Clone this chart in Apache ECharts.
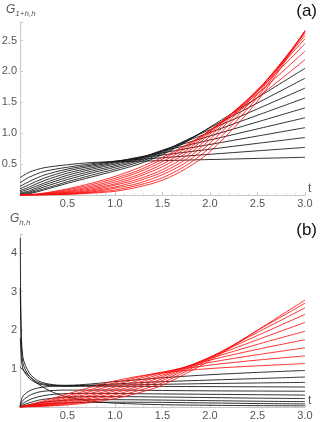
<!DOCTYPE html>
<html>
<head>
<meta charset="utf-8">
<script src="https://cdn.jsdelivr.net/npm/echarts@6/dist/echarts.min.js"></script>
<style>html,body{margin:0;padding:0;background:#fff}#main{width:320px;height:422px}</style>
</head>
<body>
<div id="main"></div>
<script>
// x ticks (shared by both panels)
var xTickLabels = ['0.5', '1.0', '1.5', '2.0', '2.5', '3.0'];
var yTickLabelsA = ['0.5', '1.0', '1.5', '2.0', '2.5'];
var yTickLabelsB = ['1', '2', '3', '4'];

// panel (a): t samples
var tA = [0, 0.1, 0.25, 0.5, 0.75, 1.0, 1.25, 1.5, 1.75, 2.0, 2.5, 3.0];
// black curves of panel (a)
var blackA0 = [0.28, 0.37, 0.44, 0.49, 0.525, 0.538, 0.547, 0.556, 0.565, 0.574, 0.592, 0.61];
var blackA1 = [0.20, 0.29, 0.38, 0.45, 0.505, 0.548, 0.576, 0.603, 0.631, 0.659, 0.715, 0.77];
var blackA2 = [0.14, 0.22, 0.32, 0.42, 0.485, 0.545, 0.599, 0.647, 0.694, 0.741, 0.836, 0.93];
var blackA3 = [0.10, 0.17, 0.27, 0.39, 0.465, 0.535, 0.614, 0.682, 0.75, 0.818, 0.954, 1.09];
var blackA4 = [0.07, 0.13, 0.23, 0.355, 0.44, 0.52, 0.60, 0.71, 0.80, 0.89, 1.07, 1.25];
var blackA5 = [0.05, 0.10, 0.19, 0.32, 0.415, 0.50, 0.59, 0.727, 0.841, 0.955, 1.183, 1.41];
var blackA6 = [0.03, 0.07, 0.16, 0.285, 0.385, 0.475, 0.575, 0.715, 0.872, 1.012, 1.291, 1.57];
var blackA7 = [0.02, 0.05, 0.13, 0.25, 0.355, 0.45, 0.555, 0.70, 0.89, 1.058, 1.394, 1.73];
var blackA8 = [0.01, 0.035, 0.10, 0.215, 0.32, 0.42, 0.53, 0.68, 0.875, 1.088, 1.489, 1.89];
var blackA9 = [0.0, 0.02, 0.08, 0.19, 0.29, 0.39, 0.50, 0.655, 0.86, 1.099, 1.575, 2.05];
// red curves of panel (a)
var redA0 = [0, 0.005, 0.03, 0.10, 0.19, 0.30, 0.44, 0.61, 0.81, 1.04, 1.58, 2.19];
var redA1 = [0, 0.004, 0.024, 0.085, 0.165, 0.27, 0.40, 0.58, 0.79, 1.05, 1.64, 2.33];
var redA2 = [0, 0.003, 0.019, 0.07, 0.14, 0.24, 0.37, 0.54, 0.76, 1.04, 1.68, 2.45];
var redA3 = [0, 0.002, 0.015, 0.055, 0.12, 0.21, 0.33, 0.50, 0.72, 1.02, 1.70, 2.53];
var redA4 = [0, 0.0015, 0.011, 0.045, 0.10, 0.18, 0.30, 0.46, 0.68, 0.99, 1.70, 2.58];
var redA5 = [0, 0.001, 0.008, 0.035, 0.08, 0.16, 0.26, 0.41, 0.63, 0.95, 1.69, 2.62];
var redA6 = [0, 0.001, 0.006, 0.027, 0.065, 0.13, 0.23, 0.37, 0.58, 0.90, 1.67, 2.64];
var redA7 = [0, 0, 0.004, 0.02, 0.05, 0.11, 0.19, 0.33, 0.53, 0.84, 1.63, 2.65];
var redA8 = [0, 0, 0.003, 0.014, 0.04, 0.08, 0.16, 0.28, 0.48, 0.77, 1.58, 2.66];
var redA9 = [0, 0, 0.002, 0.01, 0.03, 0.06, 0.13, 0.24, 0.43, 0.70, 1.52, 2.66];

// panel (b): t samples for black curves
var tB = [0, 0.003, 0.01, 0.03, 0.1, 0.2, 0.35, 0.5, 0.75, 1.0, 1.5, 2.0, 2.5, 3.0];
var blackB0 = [null, 4.4, 2.4, 1.3, 0.88, 0.67, 0.58, 0.565, 0.60, 0.66, 0.76, 0.84, 0.90, 0.95];
var blackB1 = [null, 3.1, 2.0, 1.15, 0.80, 0.63, 0.565, 0.55, 0.57, 0.60, 0.66, 0.70, 0.74, 0.78];
var blackB2 = [null, 1.8, 1.45, 1.0, 0.74, 0.60, 0.55, 0.545, 0.555, 0.57, 0.59, 0.61, 0.625, 0.64];
var blackB3 = [1.05, 1.04, 1.02, 0.97, 0.8, 0.58, 0.38, 0.26, 0.15, 0.1, 0.06, 0.045, 0.035, 0.03];
var blackB4 = [0, 0.06, 0.15, 0.28, 0.42, 0.50, 0.54, 0.545, 0.54, 0.54, 0.535, 0.53, 0.525, 0.52];
var blackB5 = [0, 0.03, 0.08, 0.17, 0.30, 0.39, 0.43, 0.44, 0.44, 0.44, 0.43, 0.42, 0.415, 0.41];
var blackB6 = [0, 0.015, 0.04, 0.09, 0.19, 0.27, 0.33, 0.35, 0.355, 0.35, 0.34, 0.33, 0.32, 0.31];
var blackB7 = [0, 0.005, 0.02, 0.05, 0.11, 0.18, 0.23, 0.26, 0.27, 0.27, 0.26, 0.245, 0.23, 0.22];
var blackB8 = [0, 0.002, 0.01, 0.025, 0.06, 0.11, 0.15, 0.18, 0.19, 0.19, 0.18, 0.165, 0.15, 0.14];
var blackB9 = [0, 0, 0.004, 0.01, 0.03, 0.06, 0.09, 0.11, 0.12, 0.125, 0.12, 0.105, 0.09, 0.08];
// panel (b): t samples for red curves
var tR = [0, 0.25, 0.5, 0.75, 1.0, 1.25, 1.5, 2.0, 2.5, 3.0];
var redB0 = [0, 0.16, 0.34, 0.52, 0.68, 0.80, 0.89, 1.00, 1.07, 1.13];
var redB1 = [0, 0.13, 0.29, 0.46, 0.63, 0.78, 0.91, 1.09, 1.22, 1.33];
var redB2 = [0, 0.11, 0.25, 0.41, 0.58, 0.74, 0.90, 1.16, 1.36, 1.54];
var redB3 = [0, 0.09, 0.21, 0.36, 0.52, 0.69, 0.87, 1.22, 1.50, 1.75];
var redB4 = [0, 0.07, 0.18, 0.31, 0.47, 0.64, 0.83, 1.26, 1.63, 1.97];
var redB5 = [0, 0.055, 0.15, 0.27, 0.42, 0.59, 0.79, 1.29, 1.75, 2.20];
var redB6 = [0, 0.045, 0.12, 0.23, 0.37, 0.54, 0.74, 1.30, 1.86, 2.41];
var redB7 = [0, 0.035, 0.10, 0.19, 0.32, 0.49, 0.69, 1.29, 1.94, 2.58];
var redB8 = [0, 0.025, 0.075, 0.155, 0.27, 0.43, 0.63, 1.26, 1.99, 2.70];
var redB9 = [0, 0.02, 0.055, 0.12, 0.22, 0.37, 0.57, 1.21, 2.00, 2.78];

var blackA = [blackA0, blackA1, blackA2, blackA3, blackA4, blackA5, blackA6, blackA7, blackA8, blackA9];
var redA = [redA0, redA1, redA2, redA3, redA4, redA5, redA6, redA7, redA8, redA9];
var blackB = [blackB0, blackB1, blackB2, blackB3, blackB4, blackB5, blackB6, blackB7, blackB8, blackB9];
var redB = [redB0, redB1, redB2, redB3, redB4, redB5, redB6, redB7, redB8, redB9];

var BLACK = 'rgba(15,15,15,0.85)';
var RED = 'rgba(255,15,15,0.85)';
var FONT = '"Liberation Sans", Arial, sans-serif';

function curve(xs, ys, idx, color) {
    return {
        type: 'line',
        xAxisIndex: idx,
        yAxisIndex: idx,
        data: xs.map(function (x, i) { return [x, ys[i]]; }),
        symbol: 'none',
        smooth: 0.3,
        silent: true,
        lineStyle: { color: color, width: 1 }
    };
}

function pick(list) {
    return function (v) {
        var s = list.find(function (l) { return Math.abs(parseFloat(l) - v) < 1e-6; });
        return s || '';
    };
}

function xAxis(idx) {
    return {
        type: 'value', gridIndex: idx, min: 0, max: 3, interval: 0.5,
        name: 't', nameLocation: 'end', nameGap: 3,
        nameTextStyle: { color: '#555', fontSize: 12, fontFamily: FONT, verticalAlign: 'bottom' },
        axisLine: { show: true, lineStyle: { color: '#c8c8c8' } },
        axisTick: { show: true, inside: true, length: 3, lineStyle: { color: '#c8c8c8' } },
        minorTick: { show: true, splitNumber: 5, length: 2, lineStyle: { color: '#e0e0e0' } },
        splitLine: { show: false },
        axisLabel: { margin: 3, color: '#555', fontSize: 11, fontFamily: FONT, formatter: pick(xTickLabels) }
    };
}

function yAxis(idx, max, interval, labels) {
    return {
        type: 'value', gridIndex: idx, min: 0, max: max, interval: interval,
        axisLine: { show: true, lineStyle: { color: '#c8c8c8' } },
        axisTick: { show: true, inside: true, length: 3, lineStyle: { color: '#c8c8c8' } },
        minorTick: { show: true, splitNumber: 5, length: 2, lineStyle: { color: '#e0e0e0' } },
        splitLine: { show: false },
        axisLabel: { margin: 3, color: '#555', fontSize: 11, fontFamily: FONT, formatter: pick(labels) }
    };
}

var series = [];
blackA.forEach(function (d) { series.push(curve(tA, d, 0, BLACK)); });
redA.forEach(function (d) { series.push(curve(tA, d, 0, RED)); });
blackB.forEach(function (d) { series.push(curve(tB, d, 1, BLACK)); });
redB.forEach(function (d) { series.push(curve(tR, d, 1, RED)); });

var chart = echarts.init(document.getElementById('main'));
chart.setOption({
    animation: false,
    backgroundColor: '#fff',
    grid: [
        { left: 20, right: 15, top: 22, height: 173, outerBoundsMode: 'none' },
        { left: 20, right: 15, top: 234, height: 173, outerBoundsMode: 'none' }
    ],
    xAxis: [xAxis(0), xAxis(1)],
    yAxis: [yAxis(0, 2.8, 0.5, yTickLabelsA), yAxis(1, 4.5, 1, yTickLabelsB)],
    graphic: [
        {
            type: 'text', left: 6, top: 4,
            style: {
                text: '{g|G}{s|1+h,h}',
                rich: {
                    g: { fontSize: 12, fontStyle: 'italic', fill: '#555', fontFamily: FONT },
                    s: { fontSize: 8, fontStyle: 'italic', fill: '#555', fontFamily: FONT, padding: [7, 0, 0, 0] }
                }
            }
        },
        {
            type: 'text', left: 10, top: 213,
            style: {
                text: '{g|G}{s|h,h}',
                rich: {
                    g: { fontSize: 12, fontStyle: 'italic', fill: '#555', fontFamily: FONT },
                    s: { fontSize: 8, fontStyle: 'italic', fill: '#555', fontFamily: FONT, padding: [7, 0, 0, 0] }
                }
            }
        },
        { type: 'text', right: 3, top: 3, style: { text: '(a)', fontSize: 17, fill: '#111', fontFamily: FONT } },
        { type: 'text', right: 3, top: 222, style: { text: '(b)', fontSize: 17, fill: '#111', fontFamily: FONT } }
    ],
    series: series
});
</script>
</body>
</html>
